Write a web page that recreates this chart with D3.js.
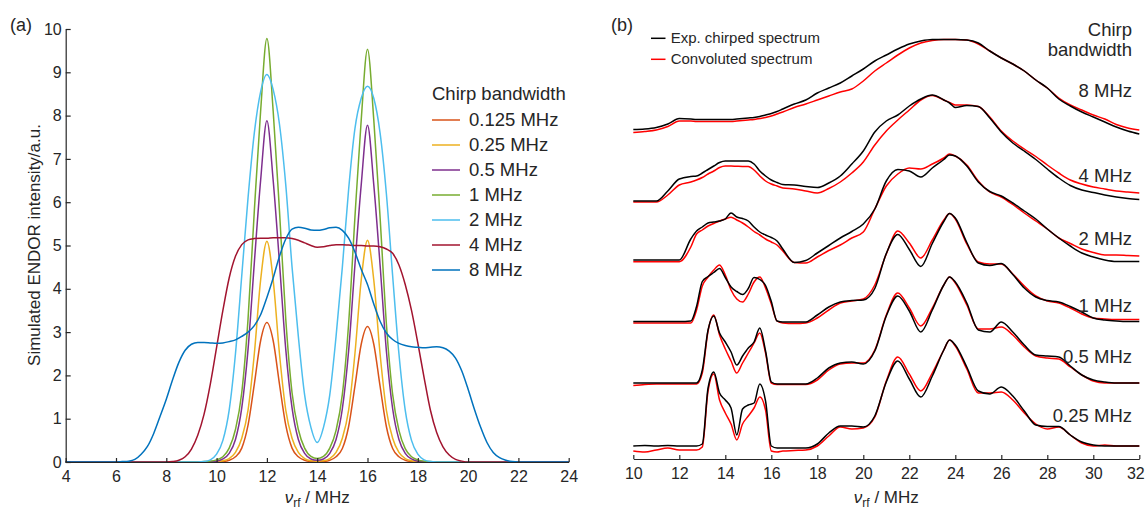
<!DOCTYPE html>
<html>
<head>
<meta charset="utf-8">
<script src="https://cdn.jsdelivr.net/npm/d3@7"></script>
<style>
  body { margin: 0; background: #fff; }
  svg { display: block; }
</style>
</head>
<body>
<script>
// ---------- panel (a): simulated ENDOR spectra ----------
const freqA = [4,
  6, 6.25, 6.5, 6.75, 7, 7.25, 7.5, 7.75, 8, 8.25, 8.5, 8.75, 9, 9.25, 9.5, 9.75,
  10, 10.25, 10.5, 10.75, 11, 11.25, 11.5, 11.75, 12, 12.25, 12.5, 12.75, 13, 13.25, 13.5, 13.75,
  14, 14.25, 14.5, 14.75, 15, 15.25, 15.5, 15.75, 16, 16.25, 16.5, 16.75, 17, 17.25, 17.5, 17.75,
  18, 18.25, 18.5, 18.75, 19, 19.25, 19.5, 19.75, 20, 20.25, 20.5, 20.75, 21, 21.25, 21.5, 21.75,
  22, 24];

const simA_0125 = [0,
  0,0,0,0, 0,0,0,0, 0,0,0,0, 0,0,0,0,
  0,0.01,0.04,0.12, 0.32,0.85,1.8,2.8, 3.22,2.8,1.8,0.85, 0.32,0.12,0.04,0.01,
  0,0.01,0.04,0.12, 0.31,0.82,1.75,2.72, 3.13,2.72,1.75,0.82, 0.31,0.12,0.04,0.01,
  0,0,0,0, 0,0,0,0, 0,0,0,0, 0,0,0,0,
  0,0];
const simA_025 = [0,
  0,0,0,0, 0,0,0,0, 0,0,0,0, 0,0,0,0,
  0.01,0.03,0.08,0.22, 0.55,1.2,2.5,4.2, 5.1,4.2,2.5,1.2, 0.55,0.22,0.08,0.03,
  0.02,0.03,0.08,0.22, 0.55,1.2,2.5,4.2, 5.12,4.2,2.5,1.2, 0.55,0.22,0.08,0.03,
  0.01,0,0,0, 0,0,0,0, 0,0,0,0, 0,0,0,0,
  0,0];
const simA_05 = [0,
  0,0,0,0, 0,0,0,0, 0,0,0,0, 0,0,0,0.01,
  0.02,0.07,0.2,0.52, 1.25,2.6,4.6,6.5, 7.88,6.5,4.6,2.6, 1.25,0.52,0.2,0.07,
  0.04,0.07,0.2,0.52, 1.23,2.57,4.55,6.4, 7.78,6.4,4.55,2.57, 1.23,0.52,0.2,0.07,
  0.02,0.01,0,0, 0,0,0,0, 0,0,0,0, 0,0,0,0,
  0,0];
const simA_1 = [0,
  0,0,0,0, 0,0,0,0, 0,0,0,0, 0,0,0.01,0.02,
  0.05,0.12,0.32,0.75, 1.6,3.3,5.8,8.1, 9.78,8.1,5.8,3.3, 1.6,0.75,0.32,0.13,
  0.08,0.13,0.32,0.73, 1.56,3.2,5.65,7.9, 9.53,7.9,5.65,3.2, 1.56,0.73,0.31,0.12,
  0.05,0.02,0.01,0, 0,0,0,0, 0,0,0,0, 0,0,0,0,
  0,0];
const simA_2 = [0,
  0,0,0,0, 0,0,0,0, 0,0,0,0, 0,0,0.01,0.05,
  0.18,0.5,1.2,2.5, 4.3,6.1,7.6,8.55, 8.95,8.6,7.8,6.4, 4.5,2.9,1.55,0.8,
  0.45,0.8,1.55,2.9, 4.5,6.3,7.7,8.4, 8.68,8.4,7.6,6.2, 4.3,2.5,1.2,0.5,
  0.18,0.05,0.01,0, 0,0,0,0, 0,0,0,0, 0,0,0,0,
  0,0];
const simA_4 = [0,
  0,0,0,0, 0,0,0,0, 0,0.01,0.04,0.12, 0.3,0.62,1.1,1.8,
  2.65,3.5,4.25,4.75, 5.02,5.13,5.16,5.17, 5.17,5.18,5.18,5.18, 5.16,5.12,5.06,5.0,
  4.96,4.97,5.0,5.02, 5.02,5.01,5.0,5.0, 4.99,4.99,4.97,4.92, 4.82,4.55,4.1,3.5,
  2.75,1.95,1.2,0.68, 0.35,0.16,0.06,0.02, 0,0,0,0, 0,0,0,0,
  0,0];
const simA_8 = [0,
  0,0.01,0.02,0.06, 0.18,0.36,0.66,1.05, 1.45,1.9,2.3,2.58, 2.72,2.76,2.76,2.75,
  2.74,2.75,2.78,2.82, 2.9,3.0,3.15,3.4, 3.8,4.25,4.75,5.15, 5.38,5.42,5.4,5.36,
  5.35,5.37,5.41,5.42, 5.35,5.17,4.85,4.45, 4.1,3.65,3.25,2.98, 2.83,2.74,2.69,2.66,
  2.65,2.64,2.65,2.66, 2.64,2.56,2.4,2.1, 1.68,1.22,0.8,0.45, 0.22,0.1,0.04,0.01,
  0,0];

const bwLabelsA = ["0.125 MHz", "0.25 MHz", "0.5 MHz", "1 MHz", "2 MHz", "4 MHz", "8 MHz"];
const xTicksA = [4, 6, 8, 10, 12, 14, 16, 18, 20, 22, 24];
const yTicksA = [0, 1, 2, 3, 4, 5, 6, 7, 8, 9, 10];

// ---------- panel (b): experimental vs convoluted spectra ----------
const freqB = [10, 10.5, 11, 11.5, 12, 12.5,
  12.75, 13, 13.25, 13.5, 13.75, 14, 14.25, 14.5, 14.75, 15, 15.25, 15.5, 15.75, 16, 16.25, 16.5,
  17, 17.5, 18, 18.5, 19, 19.5, 20, 20.5, 21, 21.5, 22, 22.5, 23, 23.5, 23.75,
  24, 24.5, 25, 25.5, 26, 26.5, 27, 27.5, 28, 28.5, 29, 29.5, 30, 30.5, 31, 31.5, 32];

const exp8 = [0.5, 1, 2.5, 6, 11.5, 11,
  10.5, 10.5, 10.5, 10.5, 10.5, 10.5, 10.5, 11, 11.5, 12, 12.5, 13.5, 15, 16.5, 18.5, 21,
  26, 30, 37, 42, 47, 54, 61, 69, 75, 81, 86, 89, 90.5, 90.5, 90.5,
  90.5, 90, 87, 79, 72, 66, 59, 50, 42, 31, 24, 18, 13, 8, 3, -1, -4];
const conv8 = [-2.5, -1.5, 0, 3.5, 9, 9,
  8.5, 8.5, 8.5, 8.5, 8.5, 8.5, 8.5, 9, 9.5, 10, 10.5, 11.5, 12.5, 14, 16, 18,
  22.5, 26, 30, 34, 38, 41, 49, 59, 67, 75, 82, 87, 89.5, 90.5, 90.5,
  90.5, 90, 86, 79, 72, 66, 59, 50, 42, 32, 25, 20, 15, 11, 5.5, 2, 0];
const exp4 = [0, 0, 0, 10, 22, 24.5,
  25, 28, 31.5, 35, 38.5, 40, 40, 40, 40, 40, 37, 30, 25, 21, 18.5, 16.5,
  16, 14.5, 13.5, 18, 25, 37, 50, 69, 80, 86, 95, 102, 106, 101, 98,
  93.5, 95.5, 94.5, 83, 69, 58, 50, 41.5, 32, 23, 15.5, 11, 8.5, 6, 4, 2.5, 1.5];
const conv4 = [-1, -1, -1, 6, 16, 19,
  21, 23.5, 27, 30, 33.5, 35, 35, 34.7, 34.5, 34.5, 31, 25, 20, 17, 15, 13,
  12, 10, 8, 12.5, 19, 28, 39, 56, 70, 81, 91, 101, 105.5, 101, 98.5,
  96, 96, 94.5, 84, 70, 60, 52, 44.5, 36, 28, 21, 17, 14, 12, 10, 9, 8];
const exp2 = [1, 1, 1, 1, 1, 22,
  30, 34, 38, 39, 40, 42, 48, 44, 42.5, 40, 34, 29, 26, 23.5, 20, 12,
  -1.5, 0.5, 8, 15.5, 23, 29.5, 37, 52, 80, 91.5, 90, 84, 93, 101.5, 106,
  105, 95, 79, 69.5, 65, 58, 50, 42, 32, 23, 15, 8, 4, 1, -0.5, -0.5, -0.5];
const conv2 = [-0.7, -0.7, -0.7, -0.7, -0.7, 14,
  27, 31, 35, 37.5, 40, 42, 43.7, 41, 38, 34, 29.5, 26, 22, 19, 16, 10,
  -1.5, -2, 4, 10.5, 16, 23, 29, 52, 75, 87, 93, 92, 97, 103, 107,
  105, 96, 80, 69, 64, 56.5, 48, 40, 32, 23, 17.5, 12, 8.5, 6, 6, 5.5, 5];
const exp1 = [0, 0, 0, 0, 0, 0.5,
  15, 40, 45, 49, 53, 44, 34.5, 30, 27, 33, 44, 42, 36, 20, 0.5, -0.5,
  -0.5, -0.5, 6.5, 14.5, 19.5, 21, 21.5, 33, 68, 87, 72, 55, 78, 100, 108,
  103.5, 79, 58.5, 56, 58, 47, 33.5, 24.5, 21, 19.5, 15, 9.5, 3.5, 1.5, 0.5, 0, 0];
const conv1 = [-1.5, -1.5, -1.5, -1.5, -1.5, -1.5,
  11.5, 35.5, 44.5, 51.5, 56.5, 46.5, 31.5, 22.5, 19.5, 27.5, 39.5, 44.5, 33.5, 17.5, 0.5, -1.5,
  -2, -1.5, 3.5, 11.5, 18.5, 20.5, 22.5, 36.5, 67.5, 90.5, 78.5, 63.5, 81.5, 101.5, 108,
  102.5, 77.5, 59.5, 57.5, 57.5, 47.5, 35.5, 25.5, 20.5, 18.5, 13.5, 7.5, 3.5, 2.5, 2, 2, 2];
const exp05 = [0, 0, 0, 0, 0, 0,
  0, 13, 53, 67, 50, 41, 31, 18, 27, 35, 41, 55, 32, 1, -1, -1,
  -1, -1, 5, 15, 20, 21, 19, 32, 67, 87, 72, 51, 73, 98, 106,
  101, 80, 53, 51, 61, 51, 38, 28, 27, 26, 17, 8, 3, 1, 0, 0, 0];
const conv05 = [-2.5, -1.5, -1, -1, -1, -1,
  -1, 10, 52, 68, 48, 34, 22, 10, 20, 30, 40, 50, 30, 0, -1.5, -1.5,
  -1.5, -1.5, 3, 13, 19, 20, 20, 33, 68, 90, 75, 57, 75, 98, 106,
  100, 78, 54, 54, 56, 48, 36, 27, 25, 24, 16, 8, 2, 0, 0, 0, 0];
const exp025 = [0, 0.5, 0, 0.5, 0, 0,
  0, 2, 58, 74, 53, 46, 38, 11, 37, 41, 43, 62, 45, 0, -2, -2,
  -2, -2, 2, 13, 20, 20, 19, 30, 64, 85, 67, 49, 70, 96, 106,
  101, 79, 55, 52, 59, 50, 35, 21, 19.5, 19.5, 11, 4, 1, 0, 0, 0, 0];
const conv025 = [-5, -6, -4, -2, -4, -4,
  -4, -1, 55, 72, 46, 33, 22, 6, 22, 30, 38, 49, 36, -5, -6, -5,
  -4.5, -4, 0, 10, 19, 17, 18, 29, 65, 89, 72, 55, 73, 96, 106,
  100, 77, 53, 53, 54, 46, 33, 22, 17, 19, 11, 3, 0, 1, 0, 0, 0];

const bwLabelsB = ["8 MHz", "4 MHz", "2 MHz", "1 MHz", "0.5 MHz", "0.25 MHz"];
const offsetsB = [329, 258, 198, 137.5, 76, 13];     // vertical stacking, in data units
const labelLiftB = [33, 19, 16, 10, 20, 24];
const xTicksB = [10, 12, 14, 16, 18, 20, 22, 24, 26, 28, 30, 32];

// ---------- drawing ----------
const FONT = '"Liberation Sans", Arial, Helvetica, sans-serif';
const INK = '#262626';
const colorsA = ['#D95319', '#EDB120', '#7E2F8E', '#77AC30', '#4DBEEE', '#A2142F', '#0072BD'];

const svg = d3.select('body').append('svg')
    .attr('width', 1146)
    .attr('height', 509)
    .attr('font-family', FONT);

// panel a
const xA = d3.scaleLinear().domain([4, 24]).range([65.7, 568.7]);
const yA = d3.scaleLinear().domain([0, 10]).range([462, 29]);

const seriesA = [simA_0125, simA_025, simA_05, simA_1, simA_2, simA_4, simA_8];

const lineA = d3.line()
    .x((d, i) => xA(freqA[i]))
    .y(d => yA(d))
    .curve(d3.curveMonotoneX);

svg.append('g').selectAll('path')
    .data(seriesA)
    .enter()
    .append('path')
    .attr('d', lineA)
    .attr('fill', 'none')
    .attr('stroke', (d, i) => colorsA[i])
    .attr('stroke-width', 1.5);

const axA = svg.append('g')
    .attr('transform', 'translate(0,462)')
    .call(d3.axisBottom(xA).tickValues(xTicksA).tickSizeInner(-4).tickSizeOuter(0).tickPadding(9));
const ayA = svg.append('g')
    .attr('transform', 'translate(65.7,0)')
    .call(d3.axisLeft(yA).tickValues(yTicksA).tickSizeInner(-5).tickSizeOuter(0).tickPadding(4));

[axA, ayA].forEach(g => {
    g.attr('font-family', FONT).attr('font-size', 16);
    g.selectAll('path, line').attr('stroke', INK).attr('stroke-width', 1.2);
    g.selectAll('text').attr('fill', INK);
});

svg.append('text')
    .attr('transform', 'translate(40,245) rotate(-90)')
    .attr('text-anchor', 'middle')
    .attr('font-size', 17)
    .attr('fill', INK)
    .text('Simulated ENDOR intensity/a.u.');

function nuLabel(x) {
    const t = svg.append('text')
        .attr('x', x)
        .attr('y', 503)
        .attr('text-anchor', 'middle')
        .attr('font-size', 17)
        .attr('fill', INK);
    t.append('tspan').attr('font-style', 'italic').text('\u03bd');
    t.append('tspan').attr('font-size', 12).attr('dy', 4).text('rf');
    t.append('tspan').attr('dy', -4).text(' / MHz');
}
nuLabel(xA(14));

// legend a
const legA = svg.append('g');
legA.append('text')
    .attr('x', 432).attr('y', 100)
    .attr('font-size', 18.5).attr('fill', INK)
    .text('Chirp bandwidth');
bwLabelsA.forEach((lab, i) => {
    const y = 120 + i * 25;
    legA.append('line')
        .attr('x1', 432).attr('x2', 460)
        .attr('y1', y).attr('y2', y)
        .attr('stroke', colorsA[i]).attr('stroke-width', 1.5);
    legA.append('text')
        .attr('x', 469).attr('y', y + 6)
        .attr('font-size', 18.5).attr('fill', INK)
        .text(lab);
});

svg.append('text').attr('x', 10).attr('y', 31)
    .attr('font-size', 18).attr('fill', INK).text('(a)');

// panel b
const xB = d3.scaleLinear().domain([10, 32]).range([633.3, 1139.3]);
const yB = d3.scaleLinear().domain([0, 430]).range([459, 29]);

const expB = [exp8, exp4, exp2, exp1, exp05, exp025];
const convB = [conv8, conv4, conv2, conv1, conv05, conv025];

const lineB = off => d3.line()
    .x((d, i) => xB(freqB[i]))
    .y(d => yB(d + off))
    .curve(d3.curveMonotoneX);

const gB = svg.append('g');
bwLabelsB.forEach((lab, k) => {
    gB.append('path')
        .attr('d', lineB(offsetsB[k])(convB[k]))
        .attr('fill', 'none')
        .attr('stroke', '#FF0000')
        .attr('stroke-width', 1.5);
    gB.append('path')
        .attr('d', lineB(offsetsB[k])(expB[k]))
        .attr('fill', 'none')
        .attr('stroke', '#000000')
        .attr('stroke-width', 1.5);
    gB.append('text')
        .attr('x', 1132)
        .attr('y', yB(offsetsB[k] + labelLiftB[k]))
        .attr('text-anchor', 'end')
        .attr('font-size', 18.5)
        .attr('fill', INK)
        .text(lab);
});

gB.append('text').attr('x', 1132).attr('y', 36)
    .attr('text-anchor', 'end').attr('font-size', 18.5).attr('fill', INK).text('Chirp');
gB.append('text').attr('x', 1132).attr('y', 56)
    .attr('text-anchor', 'end').attr('font-size', 18.5).attr('fill', INK).text('bandwidth');

const axB = svg.append('g')
    .attr('transform', 'translate(0,459)')
    .call(d3.axisBottom(xB).tickValues(xTicksB).tickSizeInner(-4).tickSizeOuter(0).tickPadding(9));
axB.attr('font-family', FONT).attr('font-size', 16);
axB.selectAll('path, line').attr('stroke', INK).attr('stroke-width', 1.2);
axB.selectAll('text').attr('fill', INK);
// keep the last tick label inside the page
axB.selectAll('.tick text').filter(d => d === 32).attr('dx', -4);

nuLabel(xB(21));

// legend b
const legB = [['#000000', 'Exp. chirped spectrum'], ['#FF0000', 'Convoluted spectrum']];
legB.forEach((d, i) => {
    const y = 38.3 + i * 21;
    svg.append('line')
        .attr('x1', 651).attr('x2', 665.5)
        .attr('y1', y).attr('y2', y)
        .attr('stroke', d[0]).attr('stroke-width', 1.5);
    svg.append('text')
        .attr('x', 670.7).attr('y', y + 5)
        .attr('font-size', 15).attr('fill', INK)
        .text(d[1]);
});

svg.append('text').attr('x', 611).attr('y', 31)
    .attr('font-size', 18).attr('fill', INK).text('(b)');
</script>
</body>
</html>
